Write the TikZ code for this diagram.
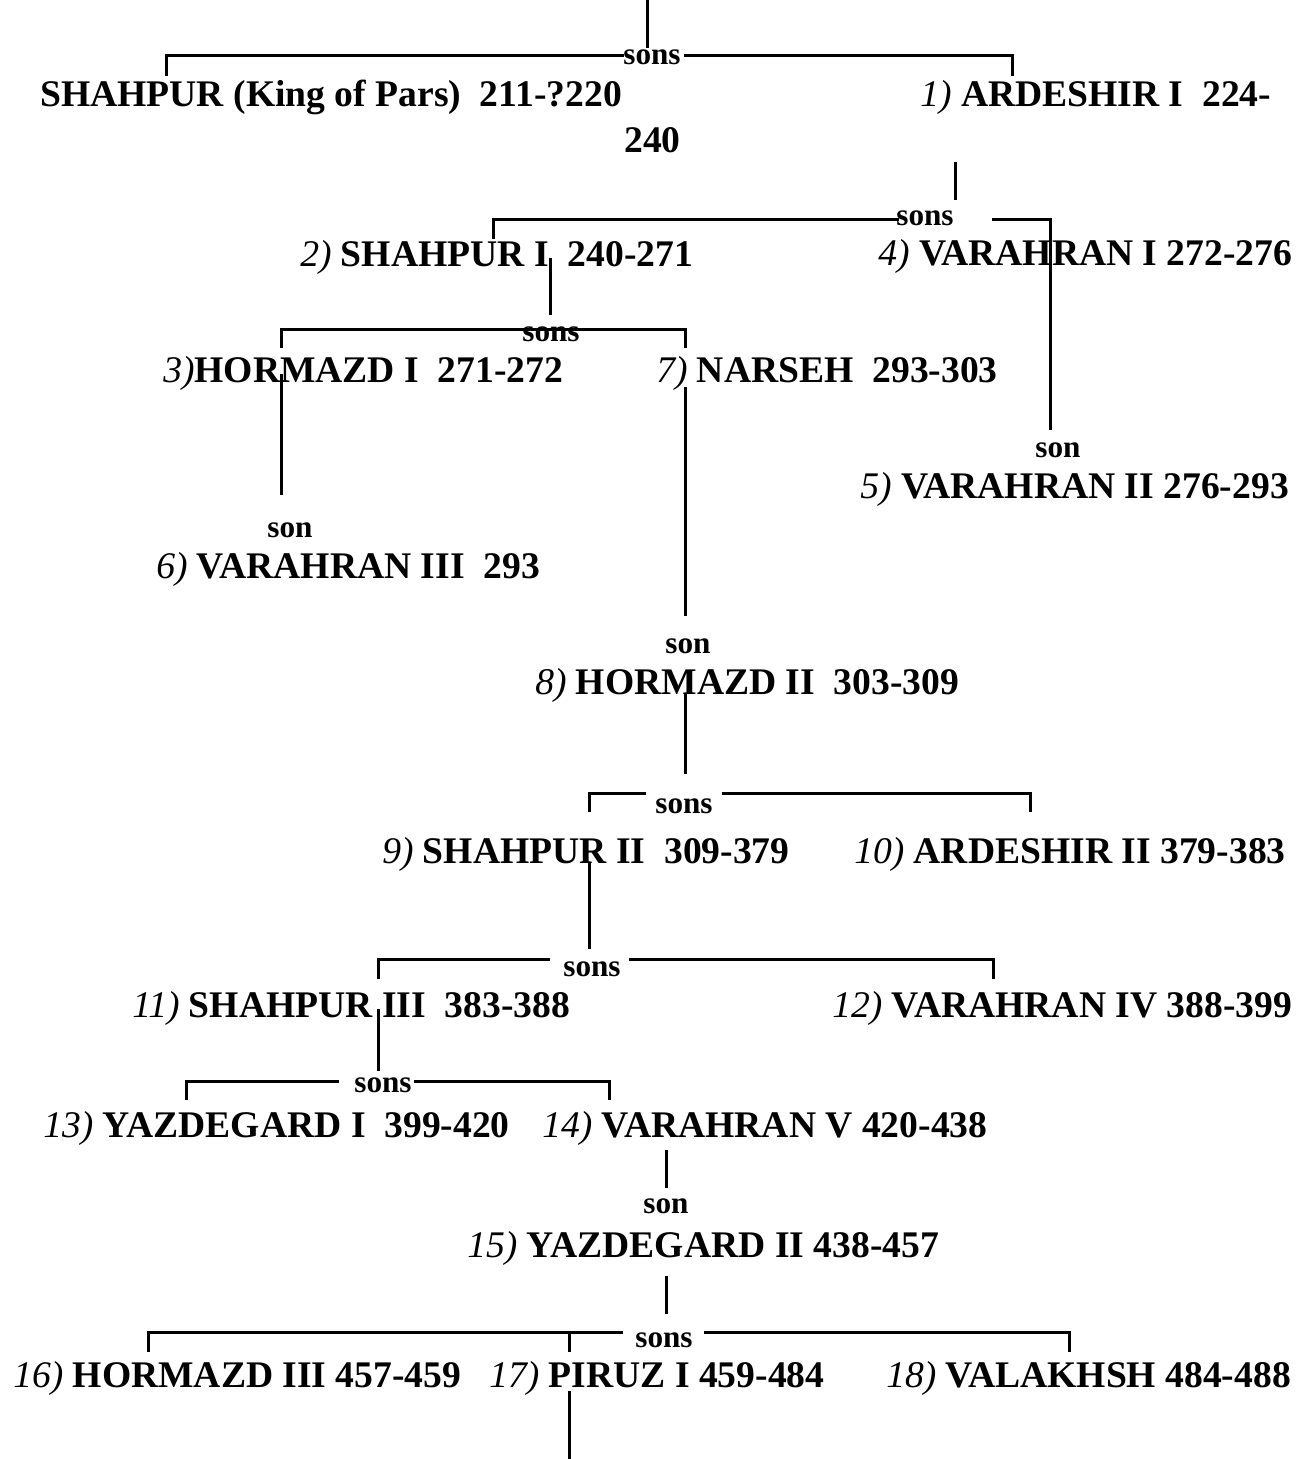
\documentclass[tikz,border=0pt]{standalone}
\usepackage{fontspec}
\setmainfont{Liberation Serif}
\newcommand{\nr}[1]{{\mdseries\itshape #1}}
\tikzset{
	king/.style={anchor=base west, inner sep=0pt, font=\fontsize{28.2}{34}\selectfont\bfseries},
	rel/.style={anchor=base, inner sep=0pt, font=\fontsize{23.4}{28}\selectfont\bfseries},
	link/.style={line width=2.25pt}
}
\begin{document}
\begin{tikzpicture}[x=0.75pt,y=-0.75pt]
		\useasboundingbox (0,0) rectangle (1311,1459);
		% Kings
		\node[king] (shahpur) at (40,107) {SHAHPUR (King of Pars)\ \ 211-?220};
		\node[king] (yr240) at (624,152) {240};
		\node[king] (ardeshirI) at (920,107) {\nr{1)} ARDESHIR I\ \ 224-};
		\node[king] (shahpurI) at (300,266) {\nr{2)} SHAHPUR I\ \ 240-271};
		\node[king] (varahranI) at (878,265) {\nr{4)} VARAHRAN I 272-276};
		\node[king] (hormazdI) at (163,382) {\nr{3)}HORMAZD I\ \ 271-272};
		\node[king] (narseh) at (656,382) {\nr{7)} NARSEH\ \ 293-303};
		\node[king] (varahranII) at (860,498) {\nr{5)} VARAHRAN II 276-293};
		\node[king] (varahranIII) at (156,578) {\nr{6)} VARAHRAN III\ \ 293};
		\node[king] (hormazdII) at (535,694) {\nr{8)} HORMAZD II\ \ 303-309};
		\node[king] (shahpurII) at (382,863) {\nr{9)} SHAHPUR II\ \ 309-379};
		\node[king] (ardeshirII) at (854,863) {\nr{10)} ARDESHIR II 379-383};
		\node[king] (shahpurIII) at (132,1017) {\nr{11)} SHAHPUR III\ \ 383-388};
		\node[king] (varahranIV) at (832,1017) {\nr{12)} VARAHRAN IV 388-399};
		\node[king] (yazdegardI) at (43,1137) {\nr{13)} YAZDEGARD I\ \ 399-420};
		\node[king] (varahranV) at (542,1137) {\nr{14)} VARAHRAN V 420-438};
		\node[king] (yazdegardII) at (467,1257) {\nr{15)} YAZDEGARD II 438-457};
		\node[king] (hormazdIII) at (13,1387) {\nr{16)} HORMAZD III 457-459};
		\node[king] (piruz) at (489,1387) {\nr{17)} PIRUZ I 459-484};
		\node[king] (valakhsh) at (886,1387) {\nr{18)} VALAKHSH 484-488};
		% Relations
		\node[rel] (sonsA) at (652,65) {sons};
		\node[rel] (sonsB) at (925,225) {sons};
		\node[rel] (sonsC) at (551,341) {sons};
		\node[rel] (sonA) at (1058,457) {son};
		\node[rel] (sonB) at (290,537) {son};
		\node[rel] (sonC) at (688,653) {son};
		\node[rel] (sonsD) at (684,813) {sons};
		\node[rel] (sonsE) at (592,976) {sons};
		\node[rel] (sonsF) at (383,1092) {sons};
		\node[rel] (sonD) at (666,1213) {son};
		\node[rel] (sonsG) at (664,1347) {sons};
		% Junctions
		\coordinate (t0) at (647,0);   \coordinate (t1) at (647,48);
		\coordinate (a1) at (166,76);  \coordinate (a2) at (624,56);
		\coordinate (a3) at (684,56);  \coordinate (a4) at (1012,76);
		\coordinate (b0) at (955,162); \coordinate (b5) at (955,200);
		\coordinate (b1) at (493,239); \coordinate (b2) at (899,219);
		\coordinate (b3) at (992,219); \coordinate (b4) at (1050,430);
		\coordinate (c0) at (550,258); \coordinate (c5) at (550,315);
		\coordinate (c1) at (281,348); \coordinate (cm) at (551,329);
		\coordinate (c2) at (685,348);
		\coordinate (e0) at (281,374); \coordinate (e1) at (281,495);
		\coordinate (f0) at (685,387); \coordinate (f1) at (685,616);
		\coordinate (d0) at (685,694); \coordinate (d5) at (685,774);
		\coordinate (d1) at (589,812); \coordinate (d2) at (646,793);
		\coordinate (d3) at (722,793); \coordinate (d4) at (1030,812);
		\coordinate (g0) at (589,863); \coordinate (g5) at (589,949);
		\coordinate (g1) at (378,979); \coordinate (g2) at (550,959);
		\coordinate (g3) at (629,959); \coordinate (g4) at (993,979);
		\coordinate (h0) at (378,1009); \coordinate (h5) at (378,1071);
		\coordinate (h1) at (186,1100); \coordinate (h2) at (339,1081);
		\coordinate (h3) at (414,1081); \coordinate (h4) at (609,1100);
		\coordinate (k0) at (666,1150); \coordinate (k1) at (666,1188);
		\coordinate (m0) at (666,1276); \coordinate (m5) at (666,1314);
		\coordinate (m1) at (148,1352); \coordinate (m2) at (623,1332);
		\coordinate (m3) at (704,1332); \coordinate (m4) at (1069,1352);
		\coordinate (mp) at (569,1332); \coordinate (mq) at (569,1352);
		\coordinate (p0) at (569,1391); \coordinate (p1) at (569,1459);
		% Lines
		\draw[link] (t0) -- (t1);
		\draw[link] (a1) |- (a2);
		\draw[link] (a3) -| (a4);
		\draw[link] (b0) -- (b5);
		\draw[link] (b1) |- (b2);
		\draw[link] (b3) -| (b4);
		\draw[link] (c0) -- (c5);
		\draw[link] (c1) |- (cm) -| (c2);
		\draw[link] (e0) -- (e1);
		\draw[link] (f0) -- (f1);
		\draw[link] (d0) -- (d5);
		\draw[link] (d1) |- (d2);
		\draw[link] (d3) -| (d4);
		\draw[link] (g0) -- (g5);
		\draw[link] (g1) |- (g2);
		\draw[link] (g3) -| (g4);
		\draw[link] (h0) -- (h5);
		\draw[link] (h1) |- (h2);
		\draw[link] (h3) -| (h4);
		\draw[link] (k0) -- (k1);
		\draw[link] (m0) -- (m5);
		\draw[link] (m1) |- (m2);
		\draw[link] (m3) -| (m4);
		\draw[link] (mp) -- (mq);
		\draw[link] (p0) -- (p1);
	\end{tikzpicture}
\end{document}
